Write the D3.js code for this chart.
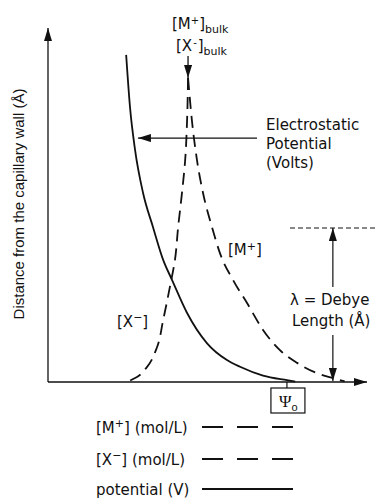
<!DOCTYPE html>
<html>
<head>
<meta charset="utf-8">
<script src="https://cdn.jsdelivr.net/npm/d3@7"></script>
<style>
  html, body { margin: 0; padding: 0; background: #fff; }
  svg text { font-family: "DejaVu Sans", sans-serif; fill: #111; }
</style>
</head>
<body>
<div id="app"></div>
<script>
// distance from wall (y) vs. value (x), both in arbitrary 0-100 units
const potentialPts = [
  [24.5, 92.4], [25.7, 77.7], [27.3, 65.5], [29.8, 53.4], [32.9, 43.8],
  [36.1, 34.5], [38.9, 28.8], [43.6, 19.5], [49.8, 11.0], [56.1, 6.2],
  [60.2, 4.3], [67.4, 1.8], [74.9, 0.5], [77.5, 0.1]
];
const anionPts = [
  [43.9, 85.9], [43.6, 74.0], [43.0, 62.7], [42.0, 53.4], [40.8, 43.8],
  [39.8, 34.5], [38.2, 26.8], [36.1, 17.5], [34.2, 9.9], [31.0, 4.2],
  [27.9, 1.4], [24.8, 0.0]
];
const cationPts = [
  [43.9, 85.9], [45.1, 74.0], [46.7, 62.7], [48.6, 53.4], [51.4, 43.8],
  [53.9, 36.4], [58.0, 28.8], [62.4, 22.3], [67.4, 14.7], [72.7, 9.0],
  [78.1, 5.4], [84.3, 2.5], [89.3, 1.1], [93.0, 0.2]
];
const bulkX = 43.9;          // where the bulk arrow points
const elecArrowY = 68.9;     // electrostatic potential pointer
const elecArrowTipX = 28.2;
const debyeX = 89.3;
const debyeLen = 43.5;
const psiX = 74.9;

const legendItems = [
  { label: "[M", sup: "+", unit: "] (mol/L)", dash: "21,14" },
  { label: "[X", sup: "\u2212", unit: "] (mol/L)", dash: "21,14" },
  { label: "potential (V)", sup: "", unit: "", dash: null }
];

const width = 377, height = 499;

const svg = d3.select("#app").append("svg")
  .attr("width", width)
  .attr("height", height);

const x = d3.scaleLinear().domain([0, 100]).range([48, 367]);
const y = d3.scaleLinear().domain([0, 100]).range([382, 28]);

svg.append("defs").append("marker")
  .attr("id", "arrow")
  .attr("markerUnits", "userSpaceOnUse")
  .attr("viewBox", "0 0 13 8")
  .attr("refX", 13).attr("refY", 4)
  .attr("markerWidth", 13).attr("markerHeight", 8)
  .attr("orient", "auto")
  .append("path")
  .attr("d", "M0,0 L13,4 L0,8 Z")
  .attr("fill", "#111");

// axes (plain arrows, no ticks)
svg.append("line")
  .attr("x1", x(0)).attr("y1", y(0)).attr("x2", x(0)).attr("y2", y(100))
  .attr("stroke", "#111").attr("stroke-width", 1.3)
  .attr("marker-end", "url(#arrow)");
svg.append("line")
  .attr("x1", x(0)).attr("y1", y(0)).attr("x2", x(100)).attr("y2", y(0))
  .attr("stroke", "#111").attr("stroke-width", 1.3)
  .attr("marker-end", "url(#arrow)");

svg.append("text")
  .attr("transform", `translate(24,${y(50) - 1}) rotate(-90)`)
  .attr("text-anchor", "middle")
  .style("font-family", "'Liberation Sans', Arial, sans-serif")
  .style("font-size", "15px")
  .text("Distance from the capillary wall (\u00c5)");

// curves
const lineX = d3.line()
  .x(d => x(d[0]))
  .y(d => y(d[1]))
  .curve(d3.curveMonotoneX);
const lineY = d3.line()
  .x(d => x(d[0]))
  .y(d => y(d[1]))
  .curve(d3.curveMonotoneY);

svg.append("path").datum(potentialPts)
  .attr("d", lineX)
  .attr("fill", "none").attr("stroke", "#111").attr("stroke-width", 1.8);

svg.append("path").datum(anionPts)
  .attr("d", lineY)
  .attr("fill", "none").attr("stroke", "#111").attr("stroke-width", 1.8)
  .attr("stroke-dasharray", "12,7");
svg.append("path").datum(cationPts)
  .attr("d", lineX)
  .attr("fill", "none").attr("stroke", "#111").attr("stroke-width", 1.8)
  .attr("stroke-dasharray", "12,7");

// bulk labels + arrow
const bulk = svg.append("g").style("font-size", "15px");
const m1 = bulk.append("text").attr("x", 172).attr("y", 29);
m1.append("tspan").text("[M");
m1.append("tspan").attr("dy", -5).style("font-size", "10px").text("+");
m1.append("tspan").attr("dy", 5).text("]");
m1.append("tspan").attr("dy", 4).style("font-size", "11px").text("bulk");
const x1 = bulk.append("text").attr("x", 176).attr("y", 51);
x1.append("tspan").text("[X");
x1.append("tspan").attr("dy", -5).attr("dx", 1).style("font-size", "10px").text("-");
x1.append("tspan").attr("dy", 5).attr("dx", 1).text("]");
x1.append("tspan").attr("dy", 4).style("font-size", "11px").text("bulk");

svg.append("line")
  .attr("x1", x(bulkX)).attr("y1", 56).attr("x2", x(bulkX)).attr("y2", 78)
  .attr("stroke", "#111").attr("stroke-width", 1.3)
  .attr("marker-end", "url(#arrow)");

// electrostatic potential pointer
svg.append("line")
  .attr("x1", 257).attr("y1", y(elecArrowY))
  .attr("x2", x(elecArrowTipX)).attr("y2", y(elecArrowY))
  .attr("stroke", "#111").attr("stroke-width", 1.2)
  .attr("marker-end", "url(#arrow)");

const elec = svg.append("text").style("font-size", "15px");
["Electrostatic", "Potential", "(Volts)"].forEach((t, i) => {
  elec.append("tspan").attr("x", 266).attr("y", 130 + i * 19).text(t);
});

// curve labels
const mLab = svg.append("text").attr("x", 228).attr("y", 255).style("font-size", "15px");
mLab.append("tspan").text("[M");
mLab.append("tspan").attr("dy", -5).style("font-size", "11px").text("+");
mLab.append("tspan").attr("dy", 5).text("]");
const xLab = svg.append("text").attr("x", 117).attr("y", 327).style("font-size", "15px");
xLab.append("tspan").text("[X");
xLab.append("tspan").attr("dy", -6).style("font-size", "11px").text("\u2212");
xLab.append("tspan").attr("dy", 6).text("]");

// Debye length
svg.append("line")
  .attr("x1", 290).attr("y1", y(debyeLen)).attr("x2", width).attr("y2", y(debyeLen))
  .attr("stroke", "#111").attr("stroke-width", 1)
  .attr("stroke-dasharray", "5,3");
svg.append("line")
  .attr("x1", x(debyeX)).attr("y1", 287).attr("x2", x(debyeX)).attr("y2", y(debyeLen))
  .attr("stroke", "#111").attr("stroke-width", 1.2)
  .attr("marker-end", "url(#arrow)");
svg.append("line")
  .attr("x1", x(debyeX)).attr("y1", 335).attr("x2", x(debyeX)).attr("y2", y(0) - 1)
  .attr("stroke", "#111").attr("stroke-width", 1.2)
  .attr("marker-end", "url(#arrow)");
const deb = svg.append("text").style("font-size", "15px");
deb.append("tspan").attr("x", 290).attr("y", 305).text("\u03bb = Debye");
deb.append("tspan").attr("x", 292).attr("y", 326).text("Length (\u00c5)");

// psi_o box
svg.append("line")
  .attr("x1", x(psiX)).attr("y1", y(0)).attr("x2", x(psiX)).attr("y2", 388)
  .attr("stroke", "#111").attr("stroke-width", 1.2);
svg.append("rect")
  .attr("x", x(psiX) - 16).attr("y", 388).attr("width", 34).attr("height", 25)
  .attr("fill", "#fff").attr("stroke", "#111").attr("stroke-width", 1.2);
const psi = svg.append("text").attr("x", x(psiX) - 8).attr("y", 407)
  .style("font-family", "'Liberation Serif', serif").style("font-size", "17px");
psi.append("tspan").text("\u03a8");
psi.append("tspan").attr("dy", 4).style("font-size", "11px")
  .style("font-family", "'Liberation Sans', sans-serif").text("o");

// legend
const legend = svg.append("g")
  .selectAll("g")
  .data(legendItems)
  .join("g")
  .attr("transform", (d, i) => `translate(0,${[433, 465, 495][i]})`);

legend.each(function(d) {
  const g = d3.select(this);
  const t = g.append("text").attr("x", 96).attr("y", 0).style("font-size", "15px");
  t.append("tspan").text(d.label);
  if (d.sup) {
    t.append("tspan").attr("dy", -6).style("font-size", "11px").text(d.sup);
    t.append("tspan").attr("dy", 6).text(d.unit);
  }
  g.append("line")
    .attr("x1", 202).attr("x2", 293).attr("y1", -6).attr("y2", -6)
    .attr("stroke", "#111").attr("stroke-width", 1.8)
    .attr("stroke-dasharray", d.dash);
});
</script>
</body>
</html>
